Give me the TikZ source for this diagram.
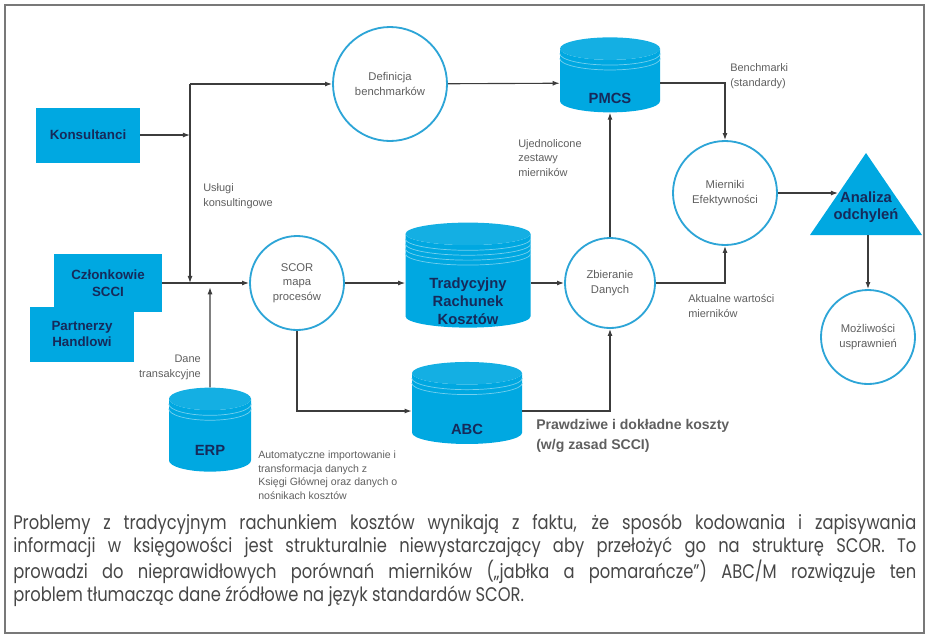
\documentclass[tikz,border=0pt]{standalone}
\usepackage{fontspec}
\setmainfont{Liberation Sans}
\newfontfamily\capfont{Poppins}[FakeStretch=0.83]
\usepackage{tikz}
\usetikzlibrary{arrows.meta, positioning, shapes, calc}

\definecolor{boxblue}{RGB}{0,168,225}
\definecolor{ringblue}{RGB}{45,165,215}
\definecolor{navytext}{RGB}{22,42,90}
\definecolor{linegray}{RGB}{60,60,60}
\definecolor{labelgray}{RGB}{95,95,95}
\definecolor{framegray}{RGB}{120,120,120}

\newcommand{\dbrings}[2]{%
  \foreach \k in {1,...,#2}
    \draw[ring style] let \p1=(#1.before top), \p2=(#1.after top), \p3=(#1.top) in
      ({min(\x1,\x2)},{\y1-\k*3.5pt}) arc[start angle=180, end angle=360,
        x radius={abs(\x2-\x1)/2}, y radius={abs(\y3-\y1)}];%
}

\begin{document}
\begin{tikzpicture}[
    x=0.25mm, y=-0.25mm,
    box style/.style={rectangle, fill=boxblue, text=navytext, font=\bfseries\fontsize{9.5}{12}\selectfont, align=center},
    proc style/.style={circle, draw=ringblue, line width=1.3pt, fill=white, text=labelgray, font=\fontsize{8}{10.5}\selectfont, align=center, inner sep=1pt},
    db style/.style={cylinder, shape border rotate=90, aspect=2.4, draw=none, cylinder uses custom fill, cylinder body fill=boxblue, cylinder end fill=boxblue!92!white},
    db text/.style={text=navytext, font=\bfseries\fontsize{10.5}{13}\selectfont, align=center},
    ring style/.style={draw=white!45!boxblue, line width=0.5pt},
    arrow style/.style={draw=linegray, line width=0.8pt, -{Latex[length=5pt, width=3.5pt]}},
    label style/.style={text=labelgray, font=\fontsize{7.8}{10.5}\selectfont, align=left, inner sep=0pt}
]
\useasboundingbox (0,0) rectangle (929,638);
\draw[framegray, line width=0.9pt] (5,5) rectangle (924,633);

\node[box style, minimum width=25.75mm, minimum height=13.75mm] (kons) at (88,135) {Konsultanci};
\node[box style, minimum width=26.75mm, minimum height=14.5mm] (czl) at (108,283) {Członkowie\\SCCI};
\node[box style, minimum width=25.75mm, minimum height=13.75mm] (part) at (82,334) {Partnerzy\\Handlowi};

\node[proc style, minimum size=28.5mm] (defi) at (390,84) {Definicja\\benchmarków};
\node[proc style, minimum size=23.5mm] (scor) at (297,283) {SCOR\\mapa\\procesów};
\node[proc style, minimum size=22.5mm] (zbie) at (610,283) {Zbieranie\\Danych};
\node[proc style, minimum size=26mm] (mier) at (725,193) {Mierniki\\Efektywności};
\node[proc style, minimum size=23.5mm] (mozl) at (868,337) {Możliwości\\usprawnień};

\node[db style, minimum width=25mm, minimum height=18.75mm] (pmcs) at (610,83) {};
\dbrings{pmcs}{2}
\node[db text] (pmcs-t) at ([yshift=-11pt]pmcs.center) {PMCS};
\node[db style, minimum width=31.25mm, minimum height=26.25mm] (trad) at (468,283) {};
\dbrings{trad}{4}
\node[db text] (trad-t) at ([yshift=-13pt]trad.center) {Tradycyjny\\Rachunek\\Kosztów};
\node[db style, minimum width=27.5mm, minimum height=20.5mm] (abc) at (467,411) {};
\dbrings{abc}{2}
\node[db text] (abc-t) at ([yshift=-13pt]abc.center) {ABC};
\node[db style, minimum width=20.5mm, minimum height=21mm] (erp) at (210,438) {};
\dbrings{erp}{2}
\node[db text] (erp-t) at ([yshift=-9pt]erp.center) {ERP};

\fill[boxblue] (866,153) -- (922,235) -- (810,235) -- cycle;
\node[box style, fill=none, font=\bfseries\fontsize{10.5}{12.5}\selectfont] (anal) at (866,207) {Analiza\\odchyleń};
\coordinate (anal-w) at (838,193);
\coordinate (anal-s) at (868,235);

\coordinate (split) at (190,84);
\coordinate (join) at (190,283);

\draw[arrow style] (kons) -- (kons -| split);
\draw[arrow style] (split) -- (defi);
\draw[arrow style] (split) -- (join);
\draw[arrow style] (czl) -- (scor);
\draw[arrow style] (erp) -- ([yshift=-3pt]erp |- join);
\draw[arrow style] (defi) -- (pmcs);
\draw[arrow style] (pmcs.east) -| (mier);
\draw[arrow style] (scor) -- (trad);
\draw[arrow style] (trad) -- (zbie);
\draw[arrow style] (zbie) -- (pmcs);
\draw[arrow style] (zbie) -| (mier);
\draw[arrow style] (scor) |- (abc);
\draw[arrow style] (abc) -| (zbie);
\draw[arrow style] (mier) -- (anal-w);
\draw[arrow style] (anal-s) -- (mozl);

\node[label style, anchor=west] (uslugi) at (203,196) {Usługi\\konsultingowe};
\node[label style, anchor=west] (bench) at (730,76) {Benchmarki\\(standardy)};
\node[label style, anchor=west] (zestawy) at (518,158) {Ujednolicone\\zestawy\\mierników};
\node[label style, anchor=west] (aktualne) at (688,306) {Aktualne wartości\\mierników};
\node[label style, anchor=east, align=right] (dane) at (201,367) {Dane\\transakcyjne};
\node[label style, anchor=north west, font=\fontsize{7.5}{9.5}\selectfont] (auto) at (258,451) {Automatyczne importowanie i\\transformacja danych z\\Księgi Głównej oraz danych o\\nośnikach kosztów};
\node[label style, anchor=north west, font=\bfseries\fontsize{10}{14}\selectfont] (koszty) at (536,419) {Prawdziwe i dokładne koszty\\(w/g zasad SCCI)};

\node[anchor=north west, text width=225.75mm, align=justify, inner sep=0pt, text=black!72, font=\capfont\fontsize{14}{16.4}\selectfont] (caption) at (13,514) {Problemy z tradycyjnym rachunkiem kosztów wynikają z faktu, że sposób kodowania i zapisywania\linebreak informacji w księgowości jest strukturalnie niewystarczający aby przełożyć go na strukturę SCOR. To\linebreak prowadzi do nieprawidłowych porównań mierników („jabłka a pomarańcze”) ABC/M rozwiązuje ten\linebreak problem tłumacząc dane źródłowe na język standardów SCOR.};
\end{tikzpicture}
\end{document}
